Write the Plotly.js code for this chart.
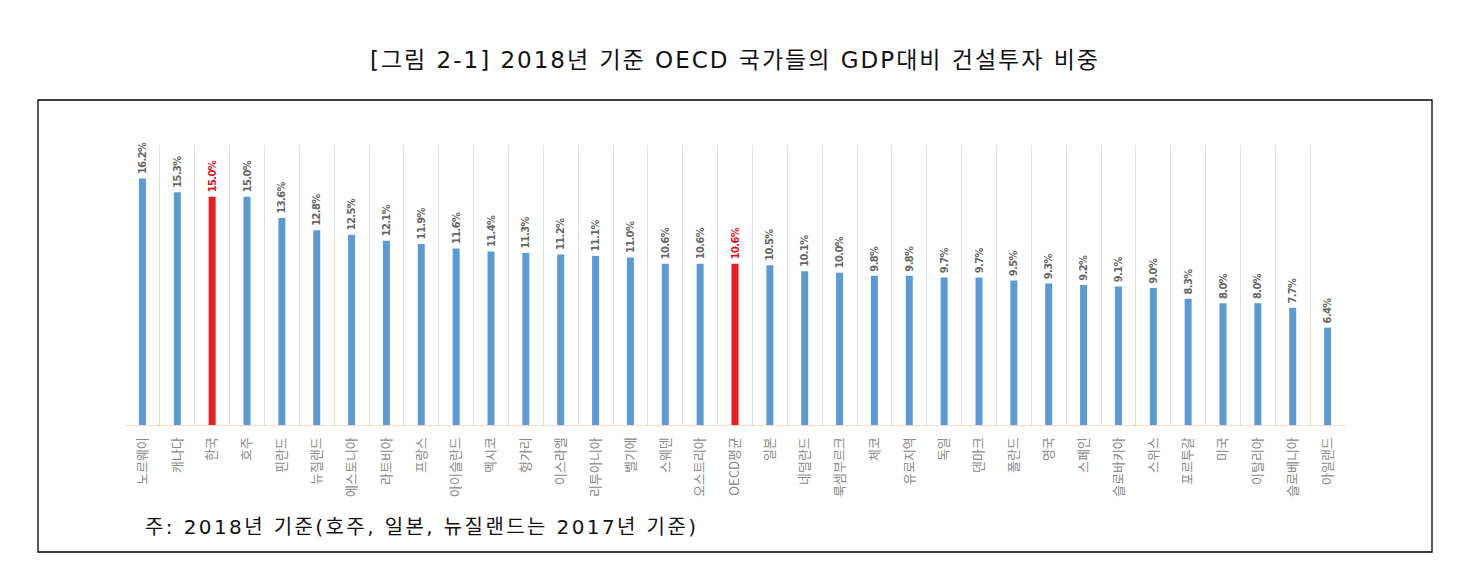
<!DOCTYPE html>
<html>
<head>
<meta charset="utf-8">
<script src="https://cdn.plot.ly/plotly-3.0.1.min.js"></script>
<style>
html,body{margin:0;padding:0;background:#fff;}
#chart{width:1473px;height:572px;}
#chart .gtitle{letter-spacing:2px;}
#chart .annotation-text{letter-spacing:2.4px;}
#chart .bartext text, #chart text.bartext{letter-spacing:-0.6px;}
</style>
</head>
<body>
<div id="chart"></div>
<script>
const categories = ["노르웨이","캐나다","한국","호주","핀란드","뉴질랜드","에스토니아","라트비아","프랑스","아이슬란드","멕시코","헝가리","이스라엘","리투아니아","벨기에","스웨덴","오스트리아","OECD평균","일본","네덜란드","룩셈부르크","체코","유로지역","독일","덴마크","폴란드","영국","스페인","슬로바키아","스위스","포르투갈","미국","이탈리아","슬로베니아","아일랜드"];
const values = [16.2,15.3,15.0,15.0,13.6,12.8,12.5,12.1,11.9,11.6,11.4,11.3,11.2,11.1,11.0,10.6,10.6,10.6,10.5,10.1,10.0,9.8,9.8,9.7,9.7,9.5,9.3,9.2,9.1,9.0,8.3,8.0,8.0,7.7,6.4];
const highlighted = ["한국","OECD평균"];

const barColors = categories.map(c => highlighted.includes(c) ? "#ee1c1c" : "#5b9bd5");
const textColors = categories.map(c => highlighted.includes(c) ? "#e8101a" : "#666666");

const L = 125, R = 1345, T = 145, B = 425;
const pw = R - L, ph = B - T;

const trace = {
  type: "bar",
  x: categories,
  y: values,
  marker: {color: barColors},
  text: values.map(v => v.toFixed(1) + "%"),
  textposition: "outside",
  textangle: -90,
  constraintext: "none",
  cliponaxis: false,
  textfont: {family: "Liberation Sans Narrow, DejaVu Sans Condensed, sans-serif", size: 11, weight: 700, color: textColors},
  hoverinfo: "x+y"
};

const layout = {
  width: 1473, height: 572,
  margin: {l: L, r: 1473 - R, t: T, b: 572 - B},
  paper_bgcolor: "#fff", plot_bgcolor: "#fff",
  showlegend: false,
  bargap: 0.8,
  title: {
    text: "[그림 2-1] 2018년 기준 OECD 국가들의 GDP대비 건설투자 비중",
    font: {family: "DejaVu Sans, Noto Sans CJK KR, sans-serif", size: 23, color: "#111"},
    x: 0.5, xref: "paper", y: 1 - 60/572, yanchor: "middle"
  },
  xaxis: {
    type: "category",
    tickson: "boundaries",
    showgrid: true, gridcolor: "#e3e3e3", gridwidth: 1,
    ticks: "", tickangle: -90, ticklabelstandoff: 6,
    tickfont: {family: "Noto Sans CJK KR, sans-serif", size: 13, color: "#8a8a8a"},
    showline: true, linecolor: "#f2d9c8", linewidth: 1,
    zeroline: false
  },
  yaxis: {
    range: [0, 18.4],
    showgrid: false, showticklabels: false, zeroline: false, showline: false, ticks: ""
  },
  shapes: [{
    type: "rect", xref: "paper", yref: "paper",
    x0: (38 - L)/pw, x1: (1432 - L)/pw,
    y0: (B - 552)/ph, y1: (B - 100)/ph,
    line: {color: "#000", width: 1.3}, fillcolor: "rgba(0,0,0,0)", layer: "below"
  }],
  annotations: [{
    text: "주: 2018년 기준(호주, 일본, 뉴질랜드는 2017년 기준)",
    xref: "paper", yref: "paper",
    x: (185 - L)/pw, y: (B - 527)/ph,
    xanchor: "left", yanchor: "middle", showarrow: false,
    font: {family: "DejaVu Sans, Noto Sans CJK KR, sans-serif", size: 20, color: "#111"}
  }]
};

Plotly.newPlot("chart", [trace], layout, {displayModeBar: false, staticPlot: true});
</script>
</body>
</html>
